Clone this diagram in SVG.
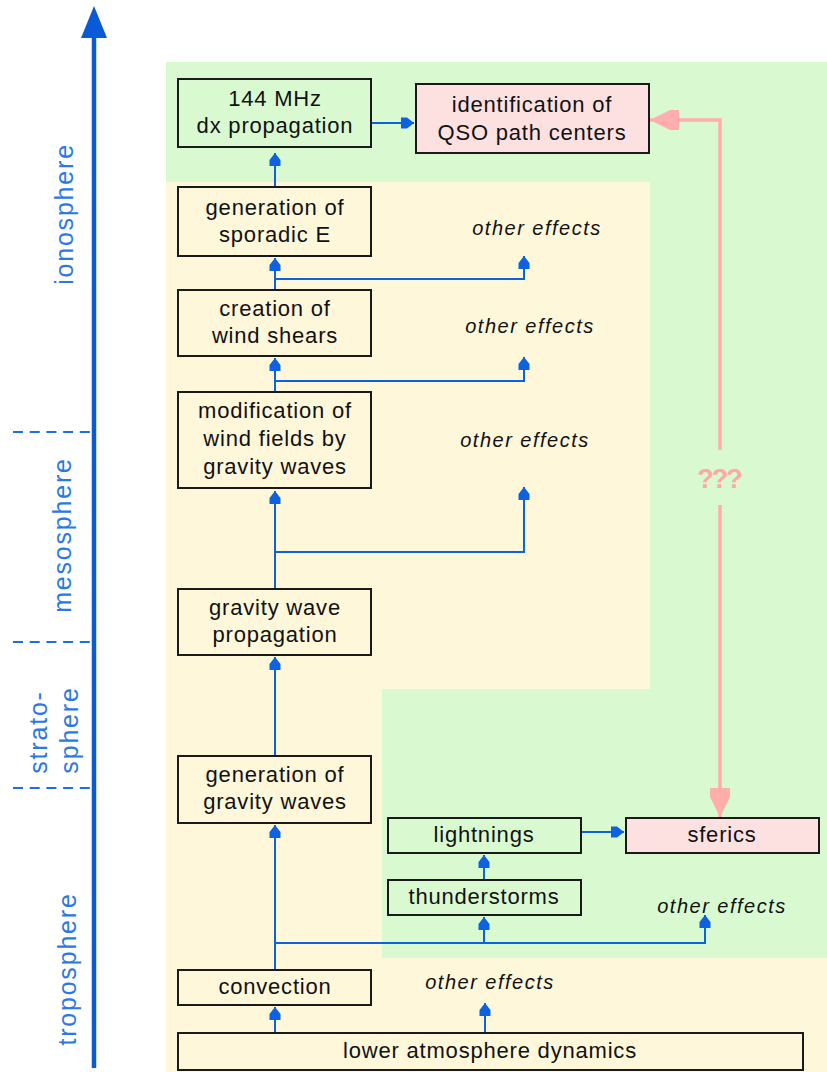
<svg xmlns="http://www.w3.org/2000/svg" width="827" height="1072" viewBox="0 0 827 1072">
<style>
.box{stroke:#1a1a1a;stroke-width:2}
.g{fill:#d9fad0}.b{fill:#fef7da}.p{fill:#fde1e1}
.t{font-family:"Liberation Sans",Arial,sans-serif;font-size:22px;letter-spacing:0.8px;fill:#111;text-anchor:middle}
.oe{font-family:"Liberation Sans",Arial,sans-serif;font-size:20px;font-style:italic;letter-spacing:1.5px;fill:#111;text-anchor:middle}
.lay{font-family:"Liberation Sans",Arial,sans-serif;font-size:25px;letter-spacing:1.8px;fill:#2a78e4;text-anchor:middle}
.c{fill:none;stroke:#0d62e0;stroke-width:2;marker-end:url(#ab)}
.pk{fill:none;stroke:#ffadad;stroke-width:3.5}
.tick{stroke:#1f6ee0;stroke-width:2;stroke-dasharray:10 6.7}
</style>
<defs>
<marker id="ab" markerWidth="14" markerHeight="12" refX="13" refY="0" viewBox="0 -6 14 12" orient="auto" markerUnits="userSpaceOnUse">
<path d="M0,-5.5 L6,-5.5 L13,0 L6,5.5 L0,5.5 Z" fill="#0d62e0"/>
</marker>
<marker id="pa" markerWidth="32" markerHeight="22" refX="29" refY="0" viewBox="0 -11 32 22" orient="auto" markerUnits="userSpaceOnUse">
<path d="M0,-10 L9,-10 L29,0 L9,10 L0,10 Z" fill="#ffadad"/>
</marker>
</defs>

<g id="background">
<rect x="166" y="62" width="661" height="1010" fill="#fef7da"/>
<path d="M166,62 H827 V958 H382 V689 H650 V182 H166 Z" fill="#d9fad0"/>
</g>

<g id="axis">
<line x1="94" y1="1068" x2="94" y2="38" stroke="#0a5ad8" stroke-width="4.5"/>
<path d="M94,6 L107,38 L81,38 Z" fill="#0a5ad8"/>
<line class="tick" x1="13" y1="432" x2="93" y2="432"/>
<line class="tick" x1="13" y1="642" x2="93" y2="642"/>
<line class="tick" x1="13" y1="788" x2="93" y2="788"/>
<text class="lay" transform="translate(73,214) rotate(-90)">ionosphere</text>
<text class="lay" transform="translate(71,535) rotate(-90)">mesosphere</text>
<text class="lay" transform="translate(47,732) rotate(-90)">strato-</text>
<text class="lay" transform="translate(78,730) rotate(-90)">sphere</text>
<text class="lay" transform="translate(76,969) rotate(-90)">troposphere</text>
</g>

<g id="connectors">
<path class="c" d="M275,187 V153"/>
<path class="c" d="M371,123 H414"/>
<path class="c" d="M275,290 V258"/>
<path class="c" d="M275,279 H524 V256"/>
<path class="c" d="M275,392 V358"/>
<path class="c" d="M275,381 H524 V357"/>
<path class="c" d="M275,589 V491"/>
<path class="c" d="M275,552 H524 V487"/>
<path class="c" d="M275,756 V657"/>
<path class="c" d="M275,970 V825"/>
<path class="c" d="M275,943 H705 V915"/>
<path class="c" d="M484,943 V917"/>
<path class="c" d="M484,880 V855"/>
<path class="c" d="M581,832 H624"/>
<path class="c" d="M275,1033 V1007"/>
<path class="c" d="M485,1033 V1003"/>
<path class="pk" d="M720,450 V120 H650" marker-end="url(#pa)"/>
<path class="pk" d="M720,505 V817" marker-end="url(#pa)"/>
<text x="719" y="488" font-family="Liberation Sans,Arial,sans-serif" font-size="27" font-weight="bold" letter-spacing="-2" fill="#ffa8a8" text-anchor="middle">???</text>
</g>

<g id="n-dx"><rect class="box g" x="178" y="79" width="193" height="68"/><text class="t" x="275" y="106">144 MHz</text><text class="t" x="275" y="133">dx propagation</text></g>
<g id="n-qso"><rect class="box p" x="416" y="84" width="233" height="69"/><text class="t" x="532" y="112">identification of</text><text class="t" x="532" y="140">QSO path centers</text></g>
<g id="n-spe"><rect class="box b" x="178" y="187" width="193" height="69"/><text class="t" x="275" y="215">generation of</text><text class="t" x="275" y="242">sporadic E</text></g>
<g id="n-shear"><rect class="box b" x="178" y="290" width="193" height="66"/><text class="t" x="275" y="316">creation of</text><text class="t" x="275" y="343">wind shears</text></g>
<g id="n-mod"><rect class="box b" x="178" y="392" width="193" height="96"/><text class="t" x="275" y="418">modification of</text><text class="t" x="275" y="446">wind fields by</text><text class="t" x="275" y="474">gravity waves</text></g>
<g id="n-prop"><rect class="box b" x="178" y="589" width="193" height="66"/><text class="t" x="275" y="615">gravity wave</text><text class="t" x="275" y="642">propagation</text></g>
<g id="n-gen"><rect class="box b" x="178" y="756" width="193" height="67"/><text class="t" x="275" y="782">generation of</text><text class="t" x="275" y="809">gravity waves</text></g>
<g id="n-light"><rect class="box g" x="388" y="818" width="193" height="35"/><text class="t" x="484" y="842">lightnings</text></g>
<g id="n-sferics"><rect class="box p" x="626" y="818" width="193" height="35"/><text class="t" x="722" y="842">sferics</text></g>
<g id="n-thunder"><rect class="box g" x="388" y="880" width="193" height="35"/><text class="t" x="484" y="904">thunderstorms</text></g>
<g id="n-conv"><rect class="box b" x="178" y="970" width="193" height="35"/><text class="t" x="275" y="994">convection</text></g>
<g id="n-lower"><rect class="box b" x="178" y="1033" width="625" height="37"/><text class="t" x="490" y="1058">lower atmosphere dynamics</text></g>

<g id="other-effects">
<text class="oe" x="537" y="235">other effects</text>
<text class="oe" x="530" y="333">other effects</text>
<text class="oe" x="525" y="447">other effects</text>
<text class="oe" x="722" y="913">other effects</text>
<text class="oe" x="490" y="989">other effects</text>
</g>
</svg>
